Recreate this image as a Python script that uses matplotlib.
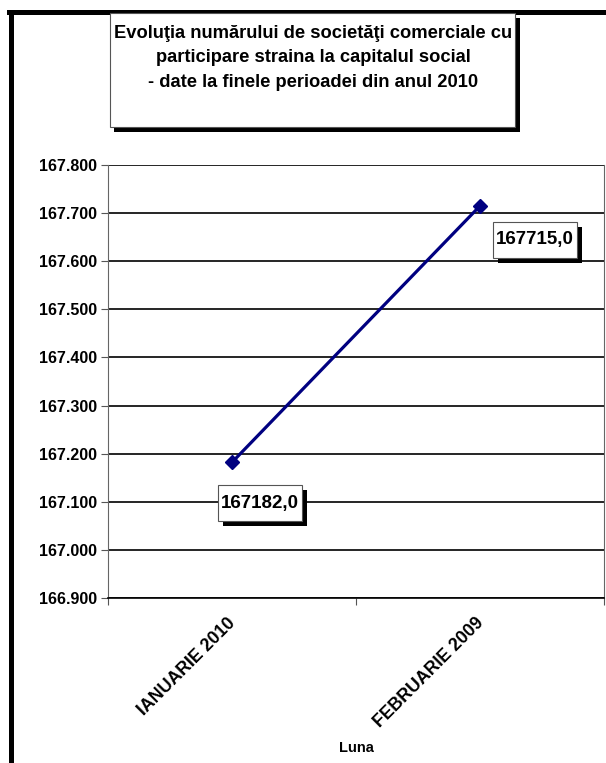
import matplotlib
matplotlib.use("Agg")
import matplotlib.pyplot as plt
from matplotlib.patches import Rectangle
from matplotlib.lines import Line2D
from matplotlib.transforms import ScaledTranslation

# --- DATA ---
months = ["IANUARIE 2010", "FEBRUARIE 2009"]
firms = [167182.0, 167715.0]
y_ticks = [166900, 167000, 167100, 167200, 167300, 167400, 167500, 167600, 167700, 167800]
title_lines = ["Evoluţia numărului de societăţi comerciale cu",
               "participare straina la capitalul social",
               "- date la finele perioadei din anul 2010"]
x_label = "Luna"

W, H = 606, 763
NAVY = "#000080"
plt.rcParams['font.family'] = ['Liberation Sans', 'DejaVu Sans']

fig = plt.figure(figsize=(W / 100, H / 100), dpi=100)


def fx(px):
    return px / W


def fy(py):
    # pixel from top -> figure fraction
    return 1 - py / H


def shadow_box(cx, cy, w, h, zorder, off=5):
    """white box with black drop shadow, centred at display coords (cx, cy)"""
    fig.add_artist(Rectangle((cx - w / 2 + off, cy - h / 2 - off), w, h, transform=None,
                             fc="black", ec="none", zorder=zorder))
    fig.add_artist(Rectangle((cx - w / 2, cy - h / 2), w, h, transform=None,
                             fc="white", ec="#555555", lw=0.8, zorder=zorder + 0.1))


# outer frame (left + top, thick)
fig.add_artist(Line2D([fx(11), fx(11)], [fy(12), 0], color="black", lw=3.6))
fig.add_artist(Line2D([fx(9), 1], [fy(12), fy(12)], color="black", lw=3.6))

# plot area
ax = fig.add_axes([fx(108), fy(598), fx(604) - fx(108), fy(165) - fy(598)])
ax.plot(range(len(months)), firms, color=NAVY, lw=2.3, marker="D", markersize=7.5,
        markerfacecolor=NAVY, markeredgecolor=NAVY, zorder=5)

ax.set_xlim(-0.5, len(months) - 0.5)
ax.set_ylim(y_ticks[0], y_ticks[-1])
ax.set_yticks(y_ticks)
ax.set_yticklabels([f"{v:,.0f}".replace(",", ".") for v in y_ticks],
                   fontsize=11.5, fontweight="bold")
ax.yaxis.grid(True, color="black", lw=1.2)
ax.set_axisbelow(True)
ax.tick_params(axis="y", length=5, width=0.8, color="#555555", pad=3)

ax.set_xticks(range(len(months)))
ax.set_xticklabels(months, rotation=45, ha="right", va="top", rotation_mode="anchor",
                   fontsize=12.8, fontweight="bold")
ax.tick_params(axis="x", length=0, pad=12)
shift = ScaledTranslation(-5 / 100, 0, fig.dpi_scale_trans)
for lab in ax.get_xticklabels():
    lab.set_transform(lab.get_transform() + shift)
ax.set_xticks([i + 0.5 for i in range(-1, len(months))], minor=True)
ax.tick_params(axis="x", which="minor", length=5, width=0.8, color="#555555")

for side in ["left", "right"]:
    ax.spines[side].set_color("#666666")
    ax.spines[side].set_linewidth(0.8)
ax.spines["top"].set_visible(False)
ax.spines["bottom"].set_color("black")
ax.spines["bottom"].set_linewidth(1.2)

ax.set_xlabel(x_label, fontsize=10.5, fontweight="bold")
ax.xaxis.set_label_coords(0.5, -0.33)

# data labels with shadowed boxes (offset in pixels from the point)
offsets = [(28, -41), (55, -34)]
for i, (v, off) in enumerate(zip(firms, offsets)):
    px, py = ax.transData.transform((i, v))
    cx, cy = px + off[0], py + off[1]
    shadow_box(cx, cy, 84, 36, zorder=8)
    fig.text(cx, cy, f"{v:.1f}".replace(".", ","), transform=None, ha="center", va="center",
             fontsize=13.5, fontweight="bold", zorder=10)

# title box with shadow
bx0, by0, bx1, by1 = 110, 13, 515, 127
fig.add_artist(Rectangle((fx(bx0 + 4), fy(by1 + 5)), fx(bx1 - bx0 + 1), fy(by0) - fy(by1),
                         transform=fig.transFigure, fc="black", ec="none", zorder=1))
fig.add_artist(Rectangle((fx(bx0), fy(by1)), fx(bx1 - bx0), fy(by0) - fy(by1),
                         transform=fig.transFigure, fc="white", ec="#555555", lw=0.8, zorder=2))
fig.text(fx(313), fy(58), "\n".join(title_lines), ha="center", va="center",
         fontsize=13.2, fontweight="bold", linespacing=1.55, zorder=3)

fig.savefig("out.png", dpi=100)
